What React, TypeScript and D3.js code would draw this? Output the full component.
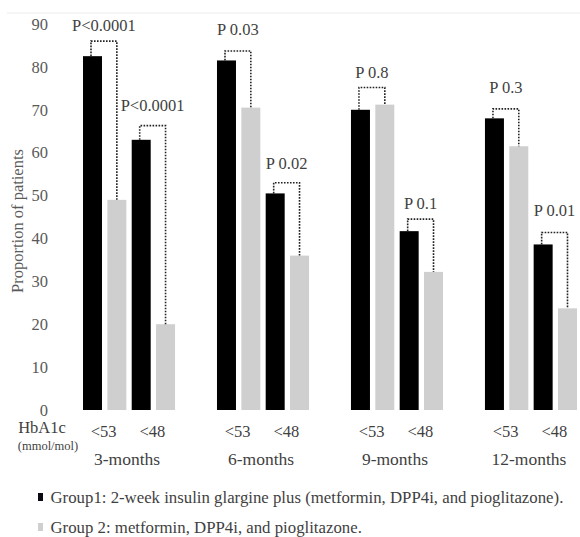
import React from "react";
import * as d3 from "d3";

const periods = ["3-months", "6-months", "9-months", "12-months"];
const thresholds = ["<53", "<48"];
const group1Values = [[82.5, 63], [81.5, 50.5], [70, 41.7], [68, 38.6]];
const group2Values = [[49, 20], [70.5, 36], [71.2, 32.2], [61.5, 23.7]];
const pLabels = [["P<0.0001", "P<0.0001"], ["P 0.03", "P 0.02"], ["P 0.8", "P 0.1"], ["P 0.3", "P 0.01"]];
const bracketLevels = [[86, 66.3], [83.7, 53], [75.2, 44.5], [70.2, 41.4]];
const labelLevels = [[88.3, 69.7], [87.4, 56.2], [77.4, 46.9], [73.9, 45.2]];
const yTicks = [0, 10, 20, 30, 40, 50, 60, 70, 80, 90];
const legendLabels = [
  "Group1: 2-week insulin glargine plus (metformin, DPP4i, and pioglitazone).",
  "Group 2: metformin, DPP4i, and pioglitazone.",
];

const W = 580;
const H = 537;
const FONT = "\"Times New Roman\", Times, \"Liberation Serif\", Tinos, \"Nimbus Roman\", FreeSerif, \"DejaVu Serif\", \"Noto Serif\", serif";
const BLACK = "#000000";
const GRAY = "#cfcfcf";
const TEXT = "#3f3f3f";
const TICK = "#595959";

export default function App() {
  const y = d3.scaleLinear().domain([0, 90]).range([410, 24]);
  const xPeriod = d3.scaleBand<string>().domain(periods).range([83, 577]).paddingInner(0.313).paddingOuter(0);
  const innerKeys = ["<53|g1", "<53|g2", "<48|g1", "<48|g2"];
  const xInner = d3.scaleBand<string>().domain(innerKeys).range([0, xPeriod.bandwidth()]).paddingInner(0.22).paddingOuter(0);
  const bw = xInner.bandwidth();
  const barX = (p: string, t: string, g: string) => (xPeriod(p) as number) + (xInner(`${t}|${g}`) as number);
  const ts = { fontFamily: FONT } as React.CSSProperties;

  return (
    <svg width={W} height={H} style={{ position: "absolute", left: 0, top: 0, background: "#fff", fontFamily: FONT }}>
      <rect x={0} y={0} width={W} height={H} fill="#fff" />
      <line x1={7} x2={W} y1={13} y2={13} stroke="#ececec" strokeWidth={1} />
      {yTicks.map((t) => (
        <text key={t} x={48} y={y(t)} dy="0.35em" textAnchor="end" fontSize={16.5} fill={TICK} style={ts}>
          {t}
        </text>
      ))}
      <text transform={`translate(23, 221) rotate(-90)`} textAnchor="middle" fontSize={16.5} fill={TICK} style={ts}>
        Proportion of patients
      </text>
      {periods.map((p, pi) =>
        thresholds.map((t, ti) => {
          const x1 = barX(p, t, "g1");
          const x2 = barX(p, t, "g2");
          const v1 = group1Values[pi][ti];
          const v2 = group2Values[pi][ti];
          const top = y(bracketLevels[pi][ti]);
          const c1 = x1 + bw / 2 - 1.5;
          const c2 = x2 + bw / 2;
          return (
            <g key={`${p}-${t}`}>
              <rect x={x1} y={y(v1)} width={bw} height={y(0) - y(v1)} fill={BLACK} />
              <rect x={x2} y={y(v2)} width={bw} height={y(0) - y(v2)} fill={GRAY} />
              <path
                d={`M${c1},${y(v1)}V${top}H${c2}V${y(v2)}`}
                fill="none"
                stroke="#222"
                strokeWidth={1.6}
                strokeDasharray="1.6,1.4"
              />
              <text x={(c1 + c2) / 2} y={y(labelLevels[pi][ti])} textAnchor="middle" fontSize={16.5} fill={TEXT} style={ts}>
                {pLabels[pi][ti]}
              </text>
              <text x={(x1 + x2 + bw) / 2 - 1} y={437} textAnchor="middle" fontSize={16.5} fill={TEXT} style={ts}>
                {t}
              </text>
            </g>
          );
        })
      )}
      {periods.map((p) => (
        <text key={p} x={(xPeriod(p) as number) + xPeriod.bandwidth() / 2 - 2} y={465} textAnchor="middle" fontSize={17.5} fill={TEXT} style={ts}>
          {p}
        </text>
      ))}
      <text x={42} y={433} textAnchor="middle" fontSize={16.5} fill={TEXT} style={ts}>HbA1c</text>
      <text x={48} y={450} textAnchor="middle" fontSize={12.5} fill={TEXT} style={ts}>(mmol/mol)</text>
      {legendLabels.map((l, i) => (
        <g key={l}>
          <rect x={38} y={493 + i * 30} width={5} height={8} fill={i === 0 ? "#0a0a14" : GRAY} />
          <text x={50.5} y={502.5 + i * 30} fontSize={16.8} fill={TEXT} style={ts}>{l}</text>
        </g>
      ))}
    </svg>
  );
}
